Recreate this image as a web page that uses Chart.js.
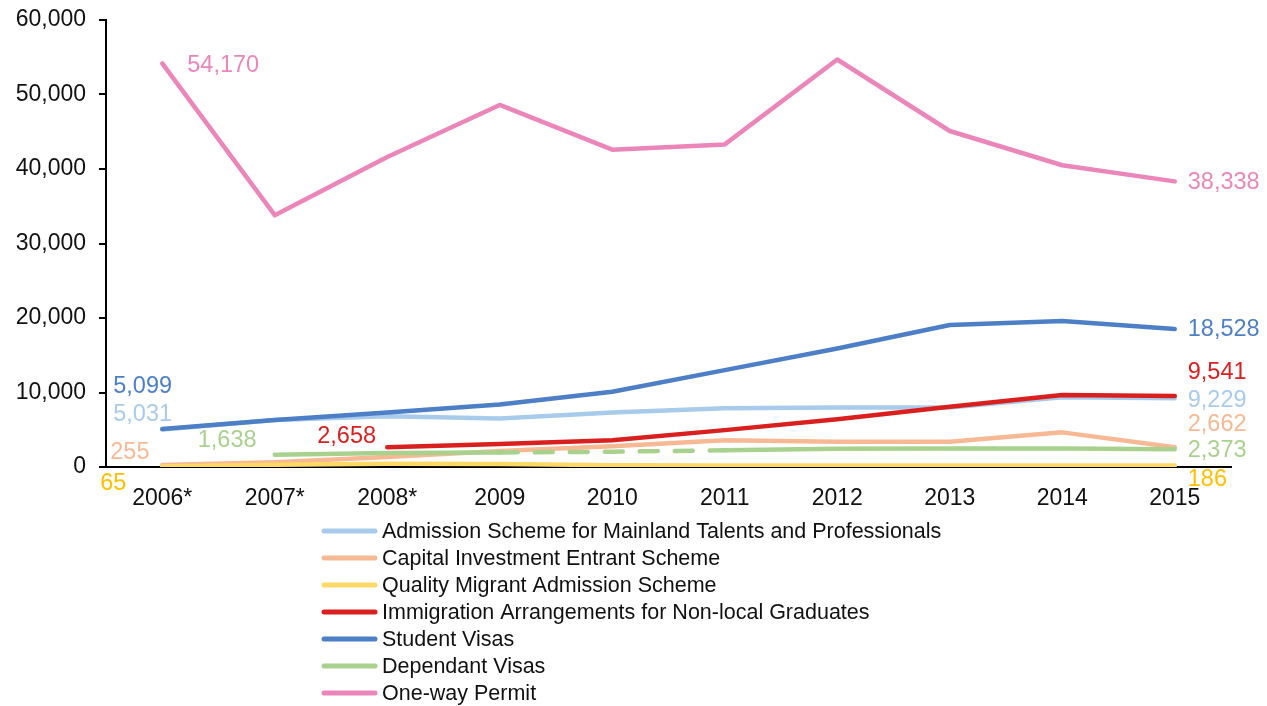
<!DOCTYPE html>
<html>
<head>
<meta charset="utf-8">
<script src="https://cdn.jsdelivr.net/npm/chart.js@4.4.1/dist/chart.umd.min.js"></script>
<style>
  body { margin: 0; background: #fff; }
  #wrap { width: 1267px; height: 706px; }
</style>
</head>
<body>
<div id="wrap"><canvas id="chart" width="1267" height="706"></canvas></div>
<script>
// categories
const years = ["2006*", "2007*", "2008*", "2009", "2010", "2011", "2012", "2013", "2014", "2015"];

// series (null where no line is drawn)
const mainlandTalents = [5031, 6300, 6800, 6500, 7300, 7900, 8000, 8000, 9350, 9229];
const capitalInvestment = [255, 650, 1350, 2150, 2800, 3600, 3400, 3400, 4650, 2662];
const qualityMigrant = [65, 300, 450, 400, 250, 200, 200, 200, 200, 186];
const nonLocalGrads = [null, null, 2658, 3100, 3600, 4950, 6400, 8100, 9650, 9541];
const studentVisas = [5099, 6300, 7300, 8400, 10100, 13000, 15900, 19060, 19600, 18528];
const dependantVisas = [null, 1638, 1880, 1950, 2050, 2250, 2450, 2500, 2500, 2373];
const oneWayPermit = [54170, 33800, 41600, 48600, 42600, 43300, 54700, 45100, 40500, 38338];

const seriesNames = [
  "Admission Scheme for Mainland Talents and Professionals",
  "Capital Investment Entrant Scheme",
  "Quality Migrant Admission Scheme",
  "Immigration Arrangements for Non-local Graduates",
  "Student Visas",
  "Dependant Visas",
  "One-way Permit"
];
const seriesColors = ["#a9cbeb", "#f7b994", "#ffd966", "#d9201f", "#4d7fc7", "#a9d18e", "#ea86ba"];
const labelColors = ["#a9cbeb", "#f7b994", "#ffc000", "#d9201f", "#4d7fc7", "#a9d18e", "#ea86ba"];
const seriesData = [mainlandTalents, capitalInvestment, qualityMigrant, nonLocalGrads, studentVisas, dependantVisas, oneWayPermit];

// y axis ticks
const yMin = 0, yMax = 60000, yStep = 10000;

// value labels: [series, point, dx, dy]
const valueLabels = [
  [6, 0, 25, 2], [6, 9, 13, 1],
  [4, 0, -49, -42], [4, 9, 13, 1],
  [0, 0, -49, -15], [0, 9, 13, 2],
  [1, 0, -52, -13], [1, 9, 13, -23],
  [2, 0, -62, 17], [2, 9, 13, 14],
  [3, 2, -70, -11], [3, 9, 13, -23],
  [5, 1, -77, -14], [5, 9, 13, 1]
];

const FONT = "Liberation Sans, Arial, sans-serif";

const labelPlugin = {
  id: "valueLabels",
  afterDatasetsDraw(chart) {
    const ctx = chart.ctx;
    ctx.save();
    ctx.font = "23.5px " + FONT;
    ctx.textAlign = "left";
    ctx.textBaseline = "middle";
    valueLabels.forEach(([s, i, dx, dy]) => {
      const pt = chart.getDatasetMeta(s).data[i];
      const v = seriesData[s][i];
      ctx.fillStyle = labelColors[s];
      ctx.fillText(v.toLocaleString("en-US"), pt.x + dx, pt.y + dy);
    });
    ctx.restore();
  }
};

const legendPlugin = {
  id: "listLegend",
  afterDraw(chart) {
    const ctx = chart.ctx;
    ctx.save();
    ctx.font = "21.5px " + FONT;
    ctx.textBaseline = "middle";
    seriesNames.forEach((name, i) => {
      const y = 531 + i * 27;
      ctx.strokeStyle = seriesColors[i];
      ctx.lineWidth = 5;
      ctx.lineCap = "round";
      ctx.beginPath();
      ctx.moveTo(324, y);
      ctx.lineTo(375, y);
      ctx.stroke();
      ctx.fillStyle = "#111";
      ctx.fillText(name, 382, y + 1);
    });
    ctx.restore();
  }
};

const datasets = seriesNames.map((name, i) => ({
  label: name,
  data: seriesData[i],
  borderColor: seriesColors[i],
  backgroundColor: seriesColors[i],
  borderWidth: 4.5,
  pointRadius: 0,
  tension: 0,
  borderCapStyle: "round",
  borderJoinStyle: "round",
  order: 10 - i,
  spanGaps: false,
  segment: i === 5 ? {
    borderDash: c => (c.p0DataIndex >= 3 && c.p0DataIndex < 5) ? [18, 17] : undefined
  } : undefined
}));

new Chart(document.getElementById("chart"), {
  type: "line",
  data: { labels: years, datasets },
  options: {
    responsive: false,
    animation: false,
    layout: { padding: { left: 0, right: 36, top: 20, bottom: 179 } },
    plugins: { legend: { display: false }, tooltip: { enabled: false } },
    scales: {
      x: {
        offset: true,
        grid: { display: false },
        border: { display: true, color: "#000", width: 2 },
        ticks: { color: "#111", font: { family: FONT, size: 23 }, padding: 10, maxRotation: 0, autoSkip: false },
        afterFit: s => { s.height = 60; }
      },
      y: {
        min: yMin, max: yMax,
        grid: { drawOnChartArea: false, drawTicks: true, tickLength: 7, color: "#000", lineWidth: 2 },
        border: { display: true, color: "#000", width: 2 },
        ticks: {
          stepSize: yStep, color: "#111", padding: 13,
          font: { family: FONT, size: 23 },
          callback: v => v.toLocaleString("en-US")
        },
        afterFit: s => { s.width = 106; s.paddingTop = 0; s.paddingBottom = 0; }
      }
    }
  },
  plugins: [labelPlugin, legendPlugin]
});
</script>
</body>
</html>
